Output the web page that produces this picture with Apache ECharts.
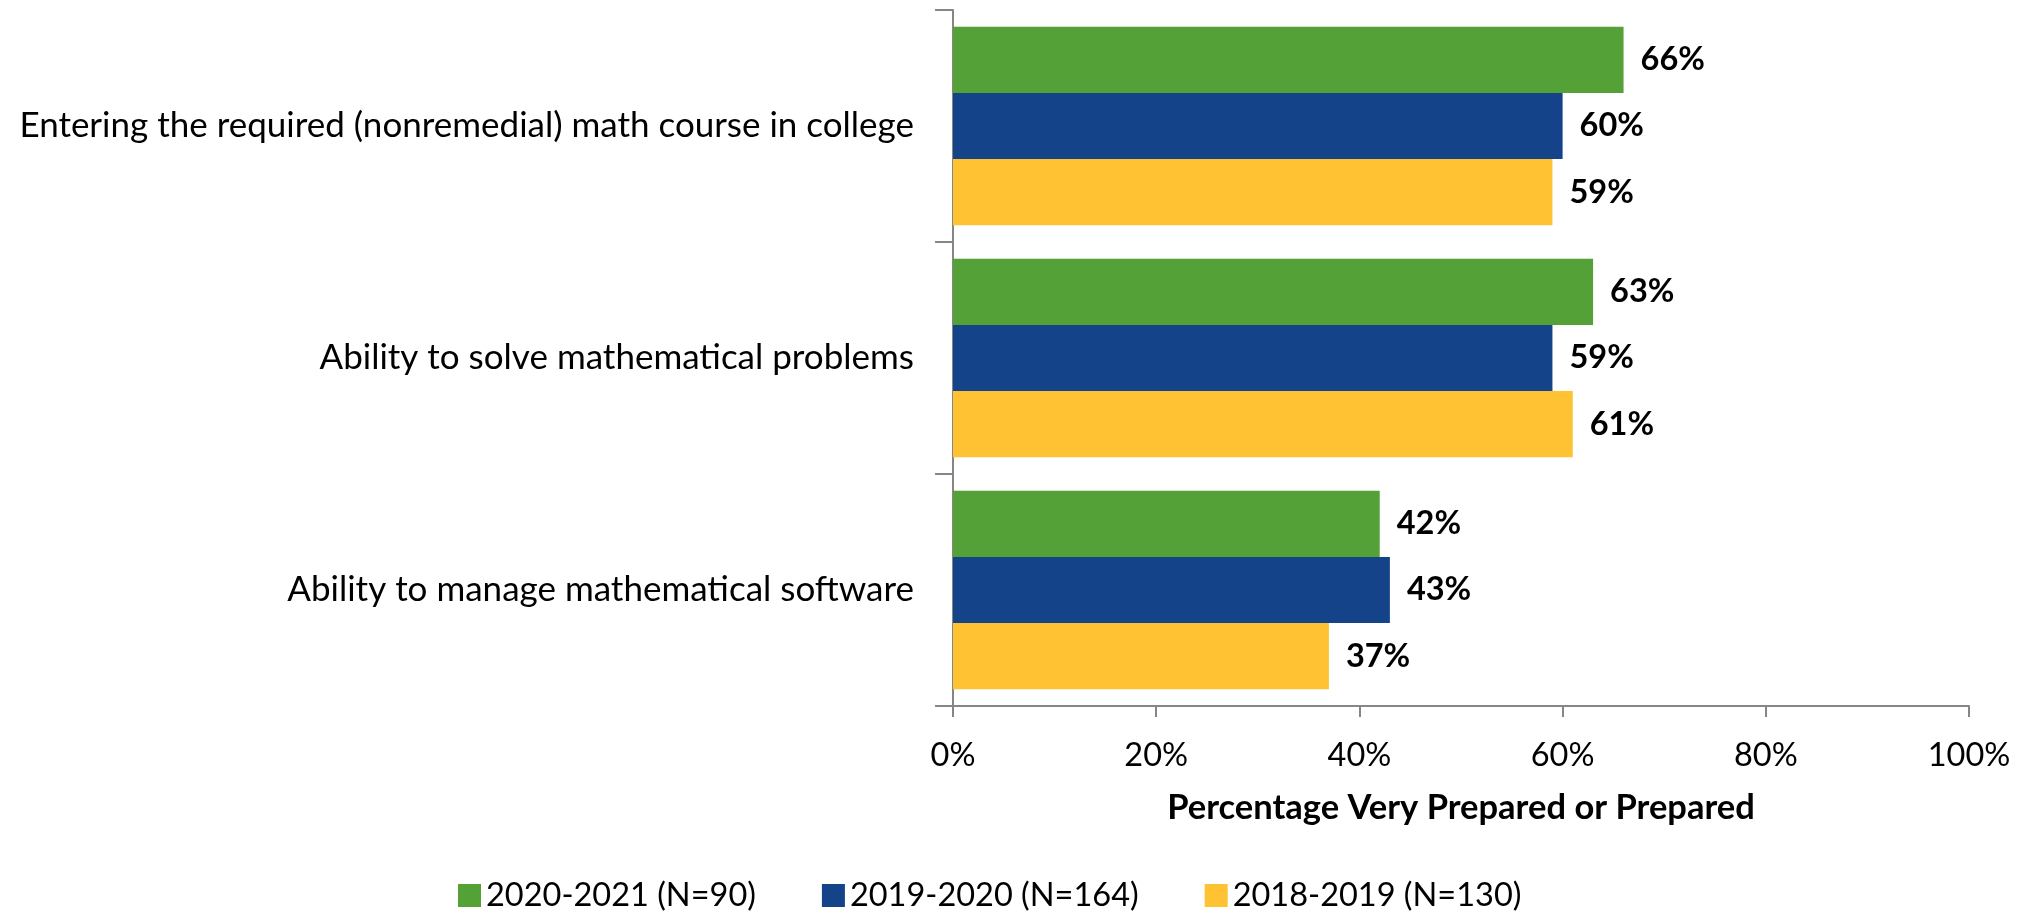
<!DOCTYPE html>
<html>
<head>
<meta charset="utf-8">
<script src="https://cdn.jsdelivr.net/npm/echarts@6/dist/echarts.min.js"></script>
<style>
html,body{margin:0;padding:0;background:#fff;}
#chart{width:2030px;height:911px;}
</style>
</head>
<body>
<div id="chart"></div>
<script>
const categories = [
  "Entering the required (nonremedial) math course in college",
  "Ability to solve mathematical problems",
  "Ability to manage mathematical software"
];
const seriesNames = ["2020-2021 (N=90)", "2019-2020 (N=164)", "2018-2019 (N=130)"];
const values2020_2021 = [66, 63, 42];
const values2019_2020 = [60, 59, 43];
const values2018_2019 = [59, 61, 37];
const xTicks = [0, 20, 40, 60, 80, 100];
const axisTitle = "Percentage Very Prepared or Prepared";
const colors = ["#54A137", "#14438A", "#FEC232"];

const FONT = "Lato";
const chart = echarts.init(document.getElementById('chart'), null, {renderer: 'canvas'});
const seriesData = [values2020_2021, values2019_2020, values2018_2019];

chart.setOption({
  animation: false,
  textStyle: {fontFamily: FONT},
  grid: {left: 953, right: 61, top: 10, bottom: 205, containLabel: false},
  legend: {
    left: 453, top: 874,
    itemWidth: 23, itemHeight: 23, itemGap: 66,
    icon: 'rect',
    textStyle: {fontFamily: FONT, fontSize: 32.5, color: '#000'},
    data: seriesNames
  },
  xAxis: {
    type: 'value', min: xTicks[0], max: xTicks[xTicks.length - 1], interval: 20,
    axisLine: {show: true, lineStyle: {color: '#868686', width: 2}},
    axisTick: {show: true, length: 11, lineStyle: {color: '#868686', width: 2}},
    splitLine: {show: false},
    axisLabel: {formatter: v => v + '%', fontSize: 32.5, color: '#000', margin: 33, fontFamily: FONT},
    name: axisTitle, nameLocation: 'middle', nameGap: 84,
    nameTextStyle: {fontSize: 34.5, fontWeight: 'bold', color: '#000', fontFamily: FONT}
  },
  yAxis: {
    type: 'category', data: categories, inverse: true,
    axisLine: {show: true, lineStyle: {color: '#868686', width: 2}},
    axisTick: {show: true, length: 18, lineStyle: {color: '#868686', width: 2}},
    axisLabel: {fontSize: 35, color: '#000', margin: 39, fontFamily: FONT}
  },
  series: seriesNames.map((n, i) => ({
    name: n, type: 'bar', data: seriesData[i],
    barGap: '0%', barCategoryGap: '14.5%',
    itemStyle: {color: colors[i]},
    label: {show: true, position: 'right', distance: 17, formatter: '{c}%',
      fontSize: 32.5, fontWeight: 'bold', color: '#000', fontFamily: FONT}
  }))
});
</script>
</body>
</html>
